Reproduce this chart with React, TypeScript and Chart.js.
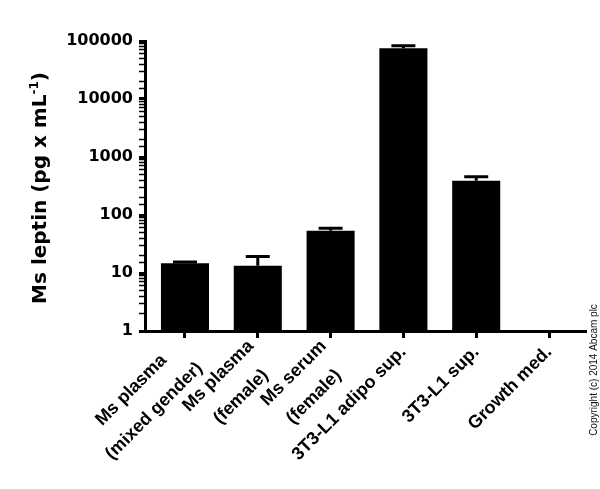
import React, { useEffect, useRef } from 'react';
import { Chart, registerables } from 'chart.js';

Chart.register(...registerables);

// ---- data ----
const categoryLines: string[][] = [
  ['Ms plasma', '(mixed gender)'],
  ['Ms plasma', '(female)'],
  ['Ms serum', '(female)'],
  ['3T3-L1 adipo sup.'],
  ['3T3-L1 sup.'],
  ['Growth med.'],
];
const leptinMean: (number | null)[] = [14.7, 13.4, 53.6, 74800, 390, null];
const leptinUpper: (number | null)[] = [15.5, 19.2, 59.2, 82600, 456, null];
const yTickValues: number[] = [1, 10, 100, 1000, 10000, 100000];
const yTitleMain = 'Ms leptin (pg x mL';
const yTitleSup = '-1';
const yTitleEnd = ')';
const copyrightText = 'Copyright (c) 2014 Abcam plc';

const FONT = "'DejaVu Sans'";
const XFONT = "'Liberation Sans'";
const TICK_SIZE = 16;
const XTICK_SIZE = 18;

function centeredLines(lines: string[]): string[] | string {
  if (lines.length === 1) return lines[0];
  const c = document.createElement('canvas').getContext('2d')!;
  c.font = `bold ${XTICK_SIZE}px ${XFONT}`;
  const widths = lines.map((l) => c.measureText(l).width);
  const maxW = Math.max(...widths);
  const sp = c.measureText(' ').width;
  return lines.map((l, i) => {
    const n = Math.round((maxW - widths[i]) / 2 / sp) + 2;
    return l + ' '.repeat(n);
  });
}

const errorBarPlugin = {
  id: 'errorBars',
  afterDatasetsDraw(chart: any) {
    const { ctx } = chart;
    const xs = chart.scales.x;
    const ys = chart.scales.y;
    ctx.save();
    ctx.strokeStyle = '#000';
    ctx.lineWidth = 3;
    leptinUpper.forEach((u, i) => {
      const m = leptinMean[i];
      if (u == null || m == null) return;
      const x = xs.getPixelForValue(i);
      const yT = ys.getPixelForValue(u);
      const yM = ys.getPixelForValue(m);
      ctx.beginPath();
      ctx.moveTo(x, yM);
      ctx.lineTo(x, yT);
      ctx.moveTo(x - 12, yT);
      ctx.lineTo(x + 12, yT);
      ctx.stroke();
    });
    ctx.restore();
  },
};

const textPlugin = {
  id: 'extraText',
  afterDraw(chart: any) {
    const { ctx, chartArea } = chart;
    ctx.save();
    const cy = (chartArea.top + chartArea.bottom) / 2;
    const mainFont = `bold 20px ${FONT}`;
    const supFont = `bold 12px ${FONT}`;
    ctx.font = mainFont;
    const w1 = ctx.measureText(yTitleMain).width;
    const w3 = ctx.measureText(yTitleEnd).width;
    ctx.font = supFont;
    const w2 = ctx.measureText(yTitleSup).width;
    const total = w1 + w2 + w3;
    ctx.translate(46, cy + 2);
    ctx.rotate(-Math.PI / 2);
    ctx.fillStyle = '#000';
    ctx.textBaseline = 'alphabetic';
    ctx.textAlign = 'left';
    let x = -total / 2;
    ctx.font = mainFont;
    ctx.fillText(yTitleMain, x, 0);
    x += w1;
    ctx.font = supFont;
    ctx.fillText(yTitleSup, x, -8);
    x += w2;
    ctx.font = mainFont;
    ctx.fillText(yTitleEnd, x, 0);
    ctx.restore();

    ctx.save();
    ctx.translate(597, 370);
    ctx.rotate(-Math.PI / 2);
    ctx.font = "10px 'Liberation Sans'";
    ctx.fillStyle = '#111';
    ctx.textAlign = 'center';
    ctx.textBaseline = 'alphabetic';
    ctx.fillText(copyrightText, 0, 0);
    ctx.restore();
  },
};

export default function App() {
  const ref = useRef<HTMLCanvasElement | null>(null);
  useEffect(() => {
    if (!ref.current) return;
    const chart = new Chart(ref.current, {
      type: 'bar',
      data: {
        datasets: [
          {
            data: leptinMean.map((v, i) => ({ x: i, y: v })) as any,
            backgroundColor: '#000',
            borderWidth: 0,
            categoryPercentage: 1,
            barPercentage: 0.66,
          },
        ],
      },
      options: {
        animation: false,
        responsive: true,
        maintainAspectRatio: false,
        layout: { padding: { top: 41, right: 14, left: 0, bottom: 0 } },
        plugins: { legend: { display: false }, tooltip: { enabled: false } },
        scales: {
          x: {
            type: 'linear',
            offset: false,
            min: -0.549,
            max: 5.508,
            afterBuildTicks: (axis: any) => {
              axis.ticks = categoryLines.map((_, i) => ({ value: i }));
            },
            afterFit: (scale: any) => {
              scale.height = 158;
            },
            border: { display: true, width: 3, color: '#000' },
            grid: {
              display: true,
              offset: false,
              drawOnChartArea: false,
              tickLength: 7,
              tickWidth: 3,
              tickColor: '#000',
            },
            ticks: {
              autoSkip: false,
              minRotation: 45,
              maxRotation: 45,
              padding: -12.5,
              color: '#000',
              font: (c: any) => {
                const lines = categoryLines[c.index];
                const multi = lines && lines.length > 1;
                return {
                  family: XFONT,
                  weight: 'bold',
                  size: XTICK_SIZE,
                  lineHeight: multi ? 31 / XTICK_SIZE : 67 / XTICK_SIZE,
                };
              },
              callback: (v: any) => {
                const idx = Math.round(Number(v));
                return categoryLines[idx] ? centeredLines(categoryLines[idx]) : '';
              },
            },
          },
          y: {
            type: 'logarithmic',
            min: 1,
            max: 100000,
            afterFit: (scale: any) => {
              scale.width = 145;
            },
            border: { display: true, width: 3, color: '#000' },
            grid: {
              display: true,
              drawOnChartArea: false,
              tickLength: 6,
              tickColor: '#000',
              tickWidth: (c: any) =>
                c.tick && yTickValues.includes(c.tick.value) ? 3 : 1.5,
            },
            ticks: {
              autoSkip: false,
              padding: 6,
              color: '#000',
              font: { family: FONT, weight: 'bold', size: TICK_SIZE },
              callback: (v: any) => (yTickValues.includes(Number(v)) ? String(v) : ''),
            },
          },
        },
      },
      plugins: [errorBarPlugin, textPlugin],
    });
    return () => chart.destroy();
  }, []);
  return (
    <div style={{ position: 'absolute', left: 0, top: 0, width: 600, height: 489 }}>
      <canvas ref={ref} />
    </div>
  );
}
